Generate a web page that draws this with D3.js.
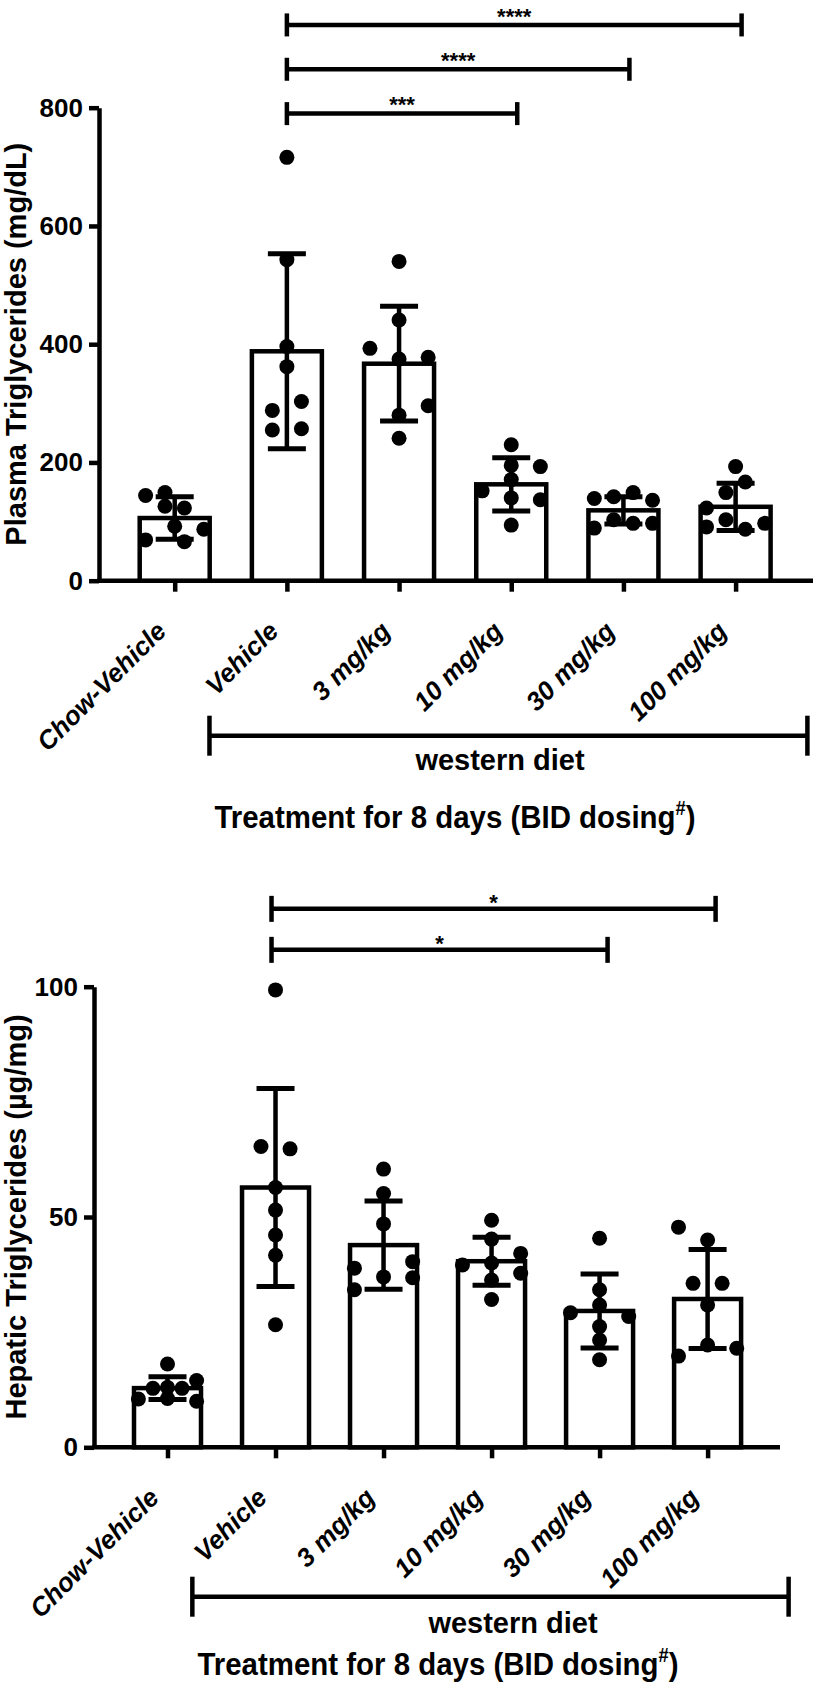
<!DOCTYPE html>
<html><head><meta charset="utf-8">
<script src="https://cdn.jsdelivr.net/npm/d3@7"></script>
<style>
html,body{margin:0;padding:0;background:#fff;}
svg{display:block;}
text{font-family:"Liberation Sans",Arial,Helvetica,sans-serif;font-weight:bold;fill:#000;}
</style></head>
<body>
<svg id="chart" width="813" height="1685"></svg>
<script>
// ---------------- DATA ----------------
const categories = ["Chow-Vehicle", "Vehicle", "3 mg/kg", "10 mg/kg", "30 mg/kg", "100 mg/kg"];

// Plasma triglycerides (mg/dL)
const plasmaMean = [106, 388, 367, 163, 119, 125];
const plasmaSD   = [36, 165, 97, 45, 23, 40];
const plasmaPoints = [
  [144, 149, 126, 123, 87, 92, 69, 66],
  [716, 543, 396, 362, 288, 303, 255, 257],
  [540, 441, 393, 375, 378, 296, 280, 241],
  [230, 195, 193, 171, 152, 140, 137, 94],
  [139, 142, 149, 136, 89, 103, 97, 97],
  [193, 167, 149, 123, 103, 91, 87, 97]
];
const plasmaJitter = [
  [-3, -1, -1, 1, 3, 0, -3, 1],
  [0, 0, 0, 0, -1.5, 1.5, -1.5, 1.5],
  [0, 0, -3, 0, 3, 3, 0, 0],
  [0, 0, 3, 0, -3, 0, 3, 0],
  [-3, -1, 1, 3, -3, -1, 1, 3],
  [0, 1, -1, -3, -1, -3, 1, 3]
];
const plasmaTicks = [0, 200, 400, 600, 800];
const plasmaComparisons = [
  ["Vehicle", "100 mg/kg", "****"],
  ["Vehicle", "30 mg/kg", "****"],
  ["Vehicle", "10 mg/kg", "***"]
];

// Hepatic triglycerides (µg/mg)
const hepaticMean = [12.85, 56.4, 43.9, 40.4, 29.6, 32.2];
const hepaticSD   = [2.45, 21.5, 9.6, 5.2, 8.05, 10.75];
const hepaticPoints = [
  [18.1, 14.5, 12.8, 12.8, 13.0, 10.5, 10.6, 10.0],
  [99.3, 65.3, 64.8, 56.4, 51.5, 46.1, 41.7, 26.6],
  [60.4, 55.1, 48.5, 40.3, 38.9, 37.0, 36.8, 34.2],
  [49.3, 45.2, 42.1, 40.0, 39.6, 37.8, 36.3, 32.1],
  [45.4, 34.2, 30.9, 29.2, 28.4, 26.2, 23.3, 19.0],
  [47.8, 45.0, 35.6, 35.6, 30.9, 22.2, 21.5, 19.8]
];
const hepaticJitter = [
  [0, 3, -1.5, 1.5, 0, -3, 0, 3],
  [0, -1.5, 1.5, 0, 0, 0, 0, 0],
  [0, 0, 0, 3, -3, 0, 3, -3],
  [0, 0, 3, 0, -3, 3, 0, 0],
  [0, 0, 0, -3, 3, 0, 0, 0],
  [-3, 0, -1.5, 1.5, 0, 0, 3, -3]
];
const hepaticTicks = [0, 50, 100];
const hepaticComparisons = [
  ["Vehicle", "100 mg/kg", "*"],
  ["Vehicle", "30 mg/kg", "*"]
];

const groupLabel = "western diet";
const xTitle = "Treatment for 8 days (BID dosing";
const xTitleSup = "#";

// ---------------- DRAWING ----------------
const svg = d3.select("#chart");

function drawChart(cfg) {
  const g = svg.append("g");
  const x = d3.scalePoint().domain(categories).range(cfg.xRange);
  const y = d3.scaleLinear().domain([0, cfg.yMax]).range(cfg.yRange);
  const step = x.step();
  const y0 = y(0);
  const SW = 4.5;

  // y axis
  const ya = g.append("g").attr("transform", `translate(${cfg.axisX},0)`)
    .call(d3.axisLeft(y).tickValues(cfg.ticks).tickSize(10).tickSizeOuter(0).tickPadding(6));
  ya.select(".domain").attr("stroke-width", SW).attr("stroke", "#000");
  ya.selectAll(".tick line").attr("stroke-width", SW).attr("stroke", "#000");
  ya.selectAll(".tick text").attr("font-size", 26).attr("font-family", "Liberation Sans, Arial, sans-serif")
    .attr("font-weight", "bold").attr("fill", "#000");

  // x axis baseline
  g.append("line").attr("x1", cfg.axisX - 2).attr("x2", cfg.axisRight)
    .attr("y1", y0).attr("y2", y0).attr("stroke", "#000").attr("stroke-width", SW);
  const xa = g.append("g").attr("transform", `translate(0,${y0})`)
    .call(d3.axisBottom(x).tickSize(11).tickSizeOuter(0));
  xa.select(".domain").remove();
  xa.selectAll(".tick line").attr("stroke-width", SW).attr("stroke", "#000");
  xa.selectAll(".tick text").remove();

  // x tick labels rotated
  g.selectAll("text.xlab").data(categories).join("text")
    .attr("class", "xlab")
    .attr("text-anchor", "end")
    .attr("font-size", 26)
    .attr("font-style", "italic")
    .attr("transform", d => `translate(${x(d) - cfg.labDx},${y0 + cfg.labDy}) rotate(-45)`)
    .text(d => d);

  // y title
  g.append("text")
    .attr("text-anchor", "middle")
    .attr("font-size", 29)
    .attr("transform", `translate(${cfg.titleX},${(y(0) + y(cfg.yMax)) / 2}) rotate(-90)`)
    .text(cfg.title);

  // bars
  g.selectAll("rect.bar").data(categories).join("rect")
    .attr("class", "bar")
    .attr("x", d => x(d) - cfg.barW / 2)
    .attr("width", cfg.barW)
    .attr("y", (d, i) => y(cfg.means[i]))
    .attr("height", (d, i) => y0 - y(cfg.means[i]))
    .attr("fill", "#fff").attr("stroke", "#000").attr("stroke-width", SW);

  // dots
  categories.forEach((c, i) => {
    g.selectAll(null).data(cfg.points[i]).join("circle")
      .attr("cx", (v, j) => x(c) + cfg.jitter[i][j] * 9.7)
      .attr("cy", v => y(v))
      .attr("r", 7.5)
      .attr("fill", "#000");
  });

  // error bars
  categories.forEach((c, i) => {
    const hi = y(cfg.means[i] + cfg.sds[i]);
    const lo = y(cfg.means[i] - cfg.sds[i]);
    const cx = x(c);
    g.append("line").attr("x1", cx).attr("x2", cx).attr("y1", hi).attr("y2", lo)
      .attr("stroke", "#000").attr("stroke-width", SW);
    [hi, lo].forEach(yy => {
      g.append("line").attr("x1", cx - 19).attr("x2", cx + 19).attr("y1", yy).attr("y2", yy)
        .attr("stroke", "#000").attr("stroke-width", 5);
    });
  });

  // significance brackets
  cfg.comps.forEach((cmp, k) => {
    const ly = y(cfg.compLevels[k]);
    const xa1 = x(cmp[0]) + cfg.compDx[0], xa2 = x(cmp[1]) + cfg.compDx[1];
    g.append("line").attr("x1", xa1).attr("x2", xa2).attr("y1", ly).attr("y2", ly)
      .attr("stroke", "#000").attr("stroke-width", SW);
    [xa1, xa2].forEach(xx => {
      g.append("line").attr("x1", xx).attr("x2", xx).attr("y1", ly - cfg.capH).attr("y2", ly + cfg.capH)
        .attr("stroke", "#000").attr("stroke-width", SW);
    });
    g.append("text").attr("text-anchor", "middle").attr("font-size", 22)
      .attr("x", (xa1 + xa2) / 2).attr("y", ly - cfg.starOff + 12.8)
      .text(cmp[2]);
  });

  // western diet group bracket
  const gx1 = x("Vehicle") - cfg.wdPad[0] * step;
  const gx2 = x("100 mg/kg") + cfg.wdPad[1] * step;
  g.append("line").attr("x1", gx1).attr("x2", gx2).attr("y1", cfg.wdY).attr("y2", cfg.wdY)
    .attr("stroke", "#000").attr("stroke-width", SW);
  [gx1, gx2].forEach(xx => {
    g.append("line").attr("x1", xx).attr("x2", xx).attr("y1", cfg.wdY - 20).attr("y2", cfg.wdY + 20)
      .attr("stroke", "#000").attr("stroke-width", SW);
  });
  g.append("text").attr("text-anchor", "middle").attr("font-size", 29)
    .attr("x", cfg.wdTextX).attr("y", cfg.wdTextY).text(groupLabel);

  const tt = g.append("text").attr("text-anchor", "middle").attr("font-size", 32)
    .attr("transform", `translate(${cfg.trX},${cfg.trY}) scale(0.92,1)`);
  tt.append("tspan").text(xTitle);
  tt.append("tspan").attr("font-size", 20).attr("dy", -13).text(xTitleSup);
  tt.append("tspan").attr("dy", 13).text(")");
}

drawChart({
  means: plasmaMean, sds: plasmaSD, points: plasmaPoints, jitter: plasmaJitter,
  ticks: plasmaTicks, yMax: 800, yRange: [580.7, 107.7], xRange: [174.7, 735.6],
  axisX: 99, axisRight: 813, barW: 70, labDx: 7, labDy: 52, titleX: 26,
  title: "Plasma Triglycerides (mg/dL)",
  comps: plasmaComparisons, compLevels: [940, 865, 790], compDx: [0, 6], capH: 11.5, starOff: 14,
  wdPad: [0.69, 0.64], wdY: 735.7, wdTextX: 500, wdTextY: 770, trX: 455, trY: 828
});

drawChart({
  means: hepaticMean, sds: hepaticSD, points: hepaticPoints, jitter: hepaticJitter,
  ticks: hepaticTicks, yMax: 100, yRange: [1447.3, 986.7], xRange: [167.5, 707.6],
  axisX: 94, axisRight: 780, barW: 67, labDx: 7, labDy: 52, titleX: 26,
  title: "Hepatic Triglycerides (\u00B5g/mg)",
  comps: hepaticComparisons, compLevels: [116.9, 108.0], compDx: [-4, 8], capH: 13, starOff: 12,
  wdPad: [0.77, 0.75], wdY: 1596.7, wdTextX: 513, wdTextY: 1633, trX: 438, trY: 1675
});
</script>
</body></html>
